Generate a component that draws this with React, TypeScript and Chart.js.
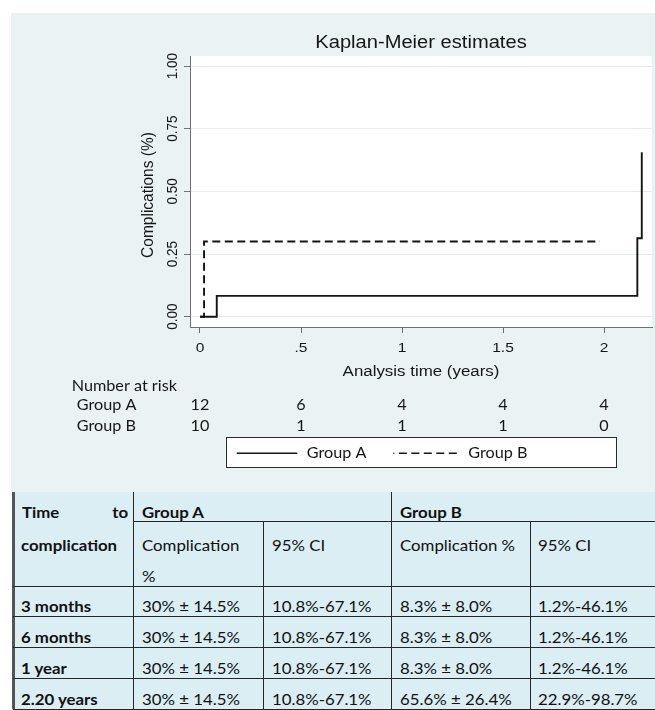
import React, { useEffect, useRef } from "react";
import { Chart, registerables } from "chart.js";

Chart.register(...registerables);

// ---------------- data ----------------
const seriesNames = ["Group A", "Group B"];
const groupATimes = [0, 0.083, 2.165, 2.187];
const groupAValues = [0, 0.083, 0.313, 0.656];
const groupBTimes = [0, 0.02, 1.98];
const groupBValues = [0, 0.3, 0.3];

const xTickValues = [0, 0.5, 1, 1.5, 2];
const xTickLabels = ["0", ".5", "1", "1.5", "2"];
const yTickValues = [0, 0.25, 0.5, 0.75, 1];
const yTickLabels = ["0.00", "0.25", "0.50", "0.75", "1.00"];

const riskTimes = [0, 0.5, 1, 1.5, 2];
const riskGroupA = [12, 6, 4, 4, 4];
const riskGroupB = [10, 1, 1, 1, 0];

const chartTitle = "Kaplan-Meier estimates";
const xTitle = "Analysis time (years)";
const yTitle = "Complications (%)";
const riskTitle = "Number at risk";

const tableTimeHead = ["Time", "to", "complication"];
const tableGroups = ["Group A", "Group B"];
const tableSubHeads = ["Complication", "%", "95% CI", "Complication %", "95% CI"];
const tableTimes = ["3 months", "6 months", "1 year", "2.20 years"];
const tableAComp = ["30% ± 14.5%", "30% ± 14.5%", "30% ± 14.5%", "30% ± 14.5%"];
const tableACI = ["10.8%-67.1%", "10.8%-67.1%", "10.8%-67.1%", "10.8%-67.1%"];
const tableBComp = ["8.3% ± 8.0%", "8.3% ± 8.0%", "8.3% ± 8.0%", "65.6% ± 26.4%"];
const tableBCI = ["1.2%-46.1%", "1.2%-46.1%", "1.2%-46.1%", "22.9%-98.7%"];

// ---------------- layout ----------------
const CANVAS_LEFT = 11;
const CANVAS_TOP = 13;
const CANVAS_W = 644;
const CANVAS_H = 479;
const ARIAL = '"Liberation Sans", Arial, sans-serif';
const CAL = 'Lato, "Open Sans", sans-serif';
const INK = "#161616";
const AXIS = "#707070";

function txt(
  ctx: CanvasRenderingContext2D,
  s: string,
  x: number,
  y: number,
  size: number,
  family: string,
  align: CanvasTextAlign,
  sx: number,
  rot = 0,
  weight = "400"
) {
  ctx.save();
  ctx.translate(x, y);
  ctx.scale(sx, 1);
  if (rot) ctx.rotate(rot);
  ctx.font = `${weight} ${size}px ${family}`;
  ctx.textAlign = align;
  ctx.textBaseline = "alphabetic";
  ctx.fillStyle = INK;
  ctx.fillText(s, 0, size * 0.358);
  ctx.restore();
}

const decorPlugin = {
  id: "decor",
  beforeDraw(chart: any) {
    const { ctx, chartArea: a } = chart;
    ctx.save();
    ctx.fillStyle = "#ffffff";
    ctx.fillRect(a.left, a.top, a.right - a.left, a.bottom - a.top);
    ctx.restore();
  },
  afterDraw(chart: any) {
    const { ctx, chartArea: a } = chart;
    const xs = chart.scales.x;
    const ys = chart.scales.y;
    const px = (v: number) => v - CANVAS_LEFT;
    const py = (v: number) => v - CANVAS_TOP;
    const cx = (a.left + a.right) / 2;

    txt(ctx, chartTitle, cx, py(41.7), 17.5, ARIAL, "center", 1.15);

    xTickValues.forEach((v, i) =>
      txt(ctx, xTickLabels[i], xs.getPixelForValue(v), py(346.7), 13.5, ARIAL, "center", 1.15)
    );
    yTickValues.forEach((v, i) =>
      txt(ctx, yTickLabels[i], px(171.7), ys.getPixelForValue(v), 13.5, ARIAL, "center", 1.15, -Math.PI / 2)
    );
    txt(ctx, xTitle, cx, py(370.7), 15.5, ARIAL, "center", 1.09);
    txt(ctx, yTitle, px(146.7), py(195), 15.5, ARIAL, "center", 1.09, -Math.PI / 2);

    // number at risk
    txt(ctx, riskTitle, px(71.7), py(386), 15, CAL, "left", 1.08);
    txt(ctx, seriesNames[0], px(76.7), py(404.5), 15, CAL, "left", 1.08);
    txt(ctx, seriesNames[1], px(76.7), py(425.7), 15, CAL, "left", 1.08);
    riskTimes.forEach((t, i) => {
      const x = xs.getPixelForValue(t);
      txt(ctx, String(riskGroupA[i]), x, py(404.5), 15, CAL, "center", 1.08);
      txt(ctx, String(riskGroupB[i]), x, py(425.7), 15, CAL, "center", 1.08);
    });

    // legend
    ctx.save();
    ctx.fillStyle = "#ffffff";
    ctx.fillRect(px(225.7), py(437.3), 390.3, 30);
    ctx.strokeStyle = "#2a2a2a";
    ctx.lineWidth = 1;
    ctx.strokeRect(Math.round(px(225.7)) + 0.5, Math.round(py(437.3)) + 0.5, 390, 30);
    ctx.strokeStyle = INK;
    ctx.lineWidth = 1.6;
    ctx.beginPath();
    ctx.moveTo(px(236.7), py(453.3));
    ctx.lineTo(px(297.3), py(453.3));
    ctx.stroke();
    ctx.setLineDash([8, 4.5]);
    ctx.lineDashOffset = 7;
    ctx.beginPath();
    ctx.moveTo(px(393.3), py(453.3));
    ctx.lineTo(px(458.3), py(453.3));
    ctx.stroke();
    ctx.restore();
    txt(ctx, seriesNames[0], px(306.7), py(453), 15, CAL, "left", 1.08);
    txt(ctx, seriesNames[1], px(468.3), py(453), 15, CAL, "left", 1.08);
  },
};

function KMChart() {
  const ref = useRef<HTMLCanvasElement | null>(null);
  useEffect(() => {
    if (!ref.current) return;
    const mk = (ts: number[], vs: number[]) => ts.map((t, i) => ({ x: t, y: vs[i] }));
    const chart = new Chart(ref.current, {
      type: "line",
      data: {
        datasets: [
          {
            label: seriesNames[0],
            data: mk(groupATimes, groupAValues),
            borderColor: "#141414",
            borderWidth: 1.9,
            stepped: "before",
            pointRadius: 0,
            fill: false,
          },
          {
            label: seriesNames[1],
            data: mk(groupBTimes, groupBValues),
            borderColor: "#141414",
            borderWidth: 1.9,
            borderDash: [8, 4.5],
            stepped: "before",
            pointRadius: 0,
            fill: false,
          },
        ],
      },
      options: {
        responsive: false,
        animation: false,
        events: [],
        layout: { padding: { left: 0, top: 43, right: 3, bottom: 0 } },
        plugins: {
          legend: { display: false },
          title: { display: false },
          tooltip: { enabled: false },
        },
        scales: {
          x: {
            type: "linear",
            min: -0.0495,
            max: 2.2376,
            afterBuildTicks: (s: any) => {
              s.ticks = xTickValues.map((v) => ({ value: v }));
            },
            afterFit: (s: any) => {
              s.height = 165;
            },
            ticks: { display: false },
            grid: {
              drawOnChartArea: false,
              drawTicks: true,
              tickLength: 6,
              tickColor: AXIS,
              tickWidth: 1,
            },
            border: { display: true, color: AXIS, width: 1 },
          },
          y: {
            type: "linear",
            min: -0.041,
            max: 1.04,
            afterBuildTicks: (s: any) => {
              s.ticks = yTickValues.map((v) => ({ value: v }));
            },
            afterFit: (s: any) => {
              s.width = 179;
            },
            ticks: { display: false },
            grid: {
              drawOnChartArea: true,
              color: "#e3ecef",
              lineWidth: 1,
              drawTicks: true,
              tickLength: 6,
              tickColor: AXIS,
              tickWidth: 1,
            },
            border: { display: true, color: AXIS, width: 1 },
          },
        },
      } as any,
      plugins: [decorPlugin],
    });
    return () => chart.destroy();
  }, []);
  return (
    <canvas
      ref={ref}
      width={CANVAS_W}
      height={CANVAS_H}
      style={{
        position: "absolute",
        left: CANVAS_LEFT,
        top: CANVAS_TOP,
        width: CANVAS_W,
        height: CANVAS_H,
        background: "#eaf2f3",
      }}
    />
  );
}

// ---------------- table ----------------
const TSX = 1.12;
function Cell(props: { x: number; y: number; text: string; bold?: boolean; right?: boolean }) {
  const { x, y, text, bold, right } = props;
  return (
    <div
      style={{
        position: "absolute",
        left: right ? undefined : x,
        right: right ? 655 - x : undefined,
        top: y - 10.4,
        lineHeight: "20px",
        fontSize: 15,
        fontFamily: CAL,
        fontWeight: bold ? 700 : 400,
        whiteSpace: "nowrap",
        color: "#111",
        transform: `scaleX(${TSX})`,
        transformOrigin: right ? "right center" : "left center",
      }}
    >
      {text}
    </div>
  );
}

function HLine(props: { y: number; x0: number; x1: number }) {
  return (
    <div
      style={{
        position: "absolute",
        left: props.x0,
        top: props.y - 0.5,
        width: props.x1 - props.x0,
        height: 1,
        background: "#262626",
      }}
    />
  );
}
function VLine(props: { x: number; y0: number; y1: number }) {
  return (
    <div
      style={{
        position: "absolute",
        left: props.x - 0.5,
        top: props.y0,
        width: 1,
        height: props.y1 - props.y0,
        background: "#262626",
      }}
    />
  );
}

function DataTable() {
  const top = 492;
  const bottom = 709.3;
  const rowLines = [521.7, 586, 616.7, 647.3, 678.3, 709.3];
  const colLines = [133.3, 263.3, 391.7, 530];
  const colText = [21, 141.7, 271.5, 400, 537.7];
  const rowCenters = [606.7, 637.5, 668.3, 699.2];
  return (
    <>
      <div
        style={{
          position: "absolute",
          left: 13,
          top,
          width: 642,
          height: 710 - top,
          background: "#daeef3",
        }}
      />
      <div
        style={{
          position: "absolute",
          left: 12,
          top,
          width: 3,
          height: bottom - top,
          background: "#555",
        }}
      />
      <HLine y={rowLines[0]} x0={colLines[0]} x1={655} />
      {rowLines.slice(1).map((y, i) => (
        <HLine key={i} y={y} x0={13} x1={655} />
      ))}
      <VLine x={colLines[0]} y0={top} y1={bottom} />
      <VLine x={colLines[1]} y0={rowLines[0]} y1={bottom} />
      <VLine x={colLines[2]} y0={top} y1={bottom} />
      <VLine x={colLines[3]} y0={rowLines[0]} y1={bottom} />

      <Cell x={21.7} y={512} text={tableTimeHead[0]} bold />
      <Cell x={127.7} y={512} text={tableTimeHead[1]} bold right />
      <Cell x={21} y={545} text={tableTimeHead[2]} bold />
      <Cell x={colText[1]} y={512} text={tableGroups[0]} bold />
      <Cell x={colText[3]} y={512} text={tableGroups[1]} bold />
      <Cell x={colText[1]} y={545} text={tableSubHeads[0]} />
      <Cell x={colText[1]} y={576.5} text={tableSubHeads[1]} />
      <Cell x={colText[2]} y={545} text={tableSubHeads[2]} />
      <Cell x={colText[3]} y={545} text={tableSubHeads[3]} />
      <Cell x={colText[4]} y={545} text={tableSubHeads[4]} />

      {tableTimes.map((t, i) => (
        <React.Fragment key={t}>
          <Cell x={colText[0]} y={rowCenters[i]} text={t} bold />
          <Cell x={colText[1]} y={rowCenters[i]} text={tableAComp[i]} />
          <Cell x={colText[2]} y={rowCenters[i]} text={tableACI[i]} />
          <Cell x={colText[3]} y={rowCenters[i]} text={tableBComp[i]} />
          <Cell x={colText[4]} y={rowCenters[i]} text={tableBCI[i]} />
        </React.Fragment>
      ))}
    </>
  );
}

export default function App() {
  return (
    <div
      style={{
        position: "absolute",
        left: 0,
        top: 0,
        width: 655,
        height: 710,
        overflow: "hidden",
        background: "#ffffff",
      }}
    >
      <KMChart />
      <DataTable />
    </div>
  );
}
